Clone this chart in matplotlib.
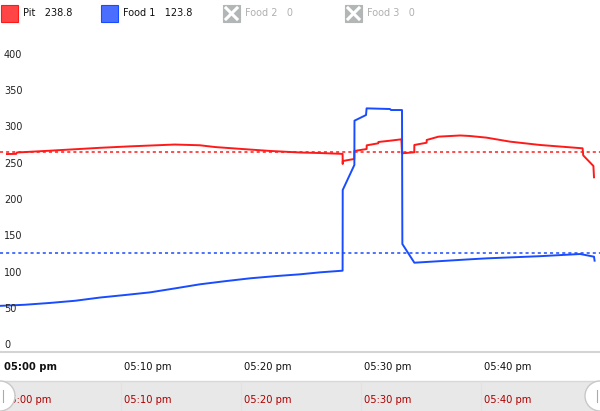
import matplotlib.pyplot as plt
from matplotlib.patches import Rectangle, Circle

# data: minutes after 05:00 pm
pit_t = [0.33, 1.1, 1.15, 3.9, 6.0, 8.1, 10.6, 14.3, 16.4, 17.7,
         19.8, 22.3, 24.8, 26.4, 28.3, 28.31, 28.32, 29.27, 29.28, 30.3,
         30.31, 31.27, 31.28, 32.25, 33.2, 33.25, 34.27, 34.28, 35.3, 35.31,
         36.3, 38.1, 38.9, 40.3, 42.25, 44.75, 48.3, 48.35, 49.2, 49.25]
pit_v = [263.4, 263.6, 265.5, 268, 270, 272, 274, 276.5, 275.5, 273,
         270.5, 267.6, 265.5, 264.8, 263.6, 249.7, 253.8, 256.6, 267.6, 270.3,
         275.4, 278.2, 280, 281.8, 283.7, 264.4, 265.8, 275.9, 279, 282.8,
         287.4, 289, 288.3, 286, 280.5, 275.9, 271.3, 261.6, 246.9, 231.3]
food_t = [-0.25, 1.8, 3.9, 6.0, 8.1, 10.2, 12.25, 14.3, 16.4, 18.5,
          20.6, 22.7, 24.75, 26.4, 28.3, 28.31, 29.28, 29.29, 30.25, 30.3,
          32.25, 32.33, 33.25, 33.28, 34.28, 38.9, 40.3, 44.75, 48.1, 49.25,
          49.3]
food_v = [54, 55.5, 58, 61, 65.5, 69, 72.6, 78, 83.7, 88,
          92, 95, 97.5, 100.2, 102.5, 213.8, 248.3, 309.4, 317.2, 326.4,
          325.5, 324.1, 324.1, 139.3, 113.5, 118.2, 119.5, 122.5, 125.5, 121.8,
          116.3]
pit_target = 266.6
food_target = 127.3
y_ticks = [0, 50, 100, 150, 200, 250, 300, 350, 400]
x_ticks = [0, 10, 20, 30, 40]
x_labels = ['05:00 pm', '05:10 pm', '05:20 pm', '05:30 pm', '05:40 pm']
legend_names = ['Pit', 'Food 1', 'Food 2', 'Food 3']
legend_vals = ['238.8', '123.8', '0', '0']

RED = '#ff1a1a'
BLUE = '#1a4cff'
W, H = 600, 411

plt.rcParams['font.family'] = ['DejaVu Sans']
fig = plt.figure(figsize=(6, 4.11), dpi=100)

# main chart
ax = fig.add_axes([0, 1 - 352 / H, 1, (352 - 30) / H])
ax.plot(pit_t, pit_v, color=RED, lw=1.4, zorder=3)
ax.plot(food_t, food_v, color=BLUE, lw=1.4, zorder=3)
ax.axhline(pit_target, color=RED, lw=1.1, ls=(0, (2, 2)))
ax.axhline(food_target, color=BLUE, lw=1.1, ls=(0, (2, 2)))
ax.set_xlim(-3 / 12, (W - 3) / 12)
ax.set_ylim((345 - 352) / 0.725, (345 - 30) / 0.725)
ax.axis('off')
for v in y_ticks:
    ax.text(4 / W, v, str(v), transform=ax.get_yaxis_transform(),
            ha='left', va='center', fontsize=7, color='#222222')

# overlay in pixel coordinates for legend, axis rows and navigator
ov = fig.add_axes([0, 0, 1, 1], zorder=5)
ov.set_xlim(0, W)
ov.set_ylim(H, 0)
ov.axis('off')
ov.patch.set_alpha(0)

# legend
sq_x = [1, 101, 223, 345]
for i, (name, val) in enumerate(zip(legend_names, legend_vals)):
    x0 = sq_x[i]
    if i == 0:
        ov.add_patch(Rectangle((x0, 5), 17, 17, fc='#ff4545', ec=RED, lw=0.8))
        col = '#111111'
    elif i == 1:
        ov.add_patch(Rectangle((x0, 5), 17, 17, fc='#4a6eff', ec=BLUE, lw=0.8))
        col = '#111111'
    else:
        ov.add_patch(Rectangle((x0, 5), 17, 17, fc='#b3b6b6', ec='#b3b6b6', lw=0.8))
        ov.plot([x0 + 3, x0 + 14], [8, 19], color='white', lw=2.2)
        ov.plot([x0 + 3, x0 + 14], [19, 8], color='white', lw=2.2)
        col = '#b0b0b0'
    ov.text(x0 + 22, 13.5, name + '   ' + val, ha='left', va='center',
            fontsize=7, color=col)

# axis row
ov.plot([0, W], [352, 352], color='#d4d4d4', lw=1.5)
for t, lab in zip(x_ticks, x_labels):
    px = 3 + 12 * t + 1
    ov.text(px, 367, lab, ha='left', va='center', fontsize=7.2,
            color='#111111', fontweight='bold' if t == 0 else 'normal')

# navigator
ov.add_patch(Rectangle((0, 381), W, 30, fc='#e8e8e8', ec='none'))
ov.plot([0, W], [381, 381], color='#d8d8d8', lw=1)
for t, lab in zip(x_ticks, x_labels):
    px = 3 + 12 * t + 1
    if t > 0:
        ov.plot([px - 3, px - 3], [381, 411], color='#e2e2e2', lw=0.8)
    ov.text(px, 400, lab, ha='left', va='center', fontsize=7.2, color='#b00000')
for cx in [0, W]:
    ov.add_patch(Circle((cx, 396), 15, fc='white', ec='#c8c8c8', lw=1, zorder=6))
    side = 3 if cx == 0 else -3
    ov.plot([cx + side, cx + side], [390, 402], color='#aaaaaa', lw=0.8, zorder=7)

fig.savefig('out.png', dpi=100)
